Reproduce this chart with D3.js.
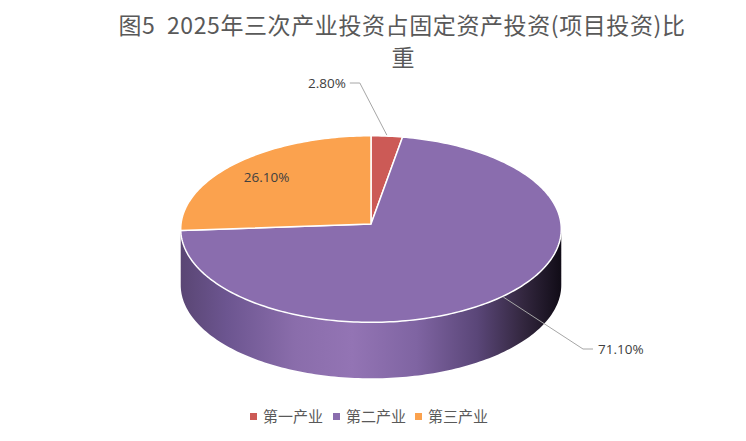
<!DOCTYPE html>
<html><head><meta charset="utf-8">
<script src="https://cdn.jsdelivr.net/npm/d3@7/dist/d3.min.js"></script>
<style>body{margin:0;background:#fff}svg{display:block}</style>
</head><body>
<svg id="c" width="746" height="441"></svg>
<script>
const categories = ["第一产业", "第二产业", "第三产业"];
const values = [2.8, 71.1, 26.1];
const valueLabels = ["2.80%", "71.10%", "26.10%"];
const colors = ["#cc5a56", "#8a6dae", "#fba24e"];
const titleLines = ["图5  2025年三次产业投资占固定资产投资(项目投资)比", "重"];

const svg = d3.select("#c");
// pie geometry (with slight perspective)
const cx = 371, vy = 224, Sx = 190, Sy = 93, depth = 56, persp = 0.054;

// Title
const tFont = "'Noto Sans CJK SC', sans-serif";
svg.append("text").attr("x", 402).attr("y", 34).attr("text-anchor", "middle")
  .attr("font-family", tFont).attr("font-size", 23).attr("letter-spacing", 0.6).attr("fill", "#595959")
  .style("white-space", "pre").text(titleLines[0]);
svg.append("text").attr("x", 403).attr("y", 66).attr("text-anchor", "middle")
  .attr("font-family", tFont).attr("font-size", 23).attr("fill", "#595959")
  .text(titleLines[1]);

const pie = d3.pie().sort(null).startAngle(0).endAngle(2 * Math.PI).value(d => d);
const arcs = pie(values);

// project a point on the circle (radius scaled by k) at angle a
function proj(a, k = 1, dy = 0) {
  const X = k * Math.sin(a), Y = -k * Math.cos(a);
  const w = 1 - persp * Y;
  return [cx + Sx * X / w, vy + Sy * Y / w + dy];
}

function arcPoints(a0, a1, dy) {
  const n = Math.max(2, Math.ceil(Math.abs(a1 - a0) / 0.02));
  const pts = [];
  for (let i = 0; i <= n; i++) pts.push(proj(a0 + (a1 - a0) * i / n, 1, dy));
  return pts;
}

// gradients for sides
const defs = svg.append("defs");
function sideGrad(id, stops) {
  const g = defs.append("linearGradient").attr("id", id)
    .attr("gradientUnits", "userSpaceOnUse")
    .attr("x1", cx - Sx).attr("x2", cx + Sx).attr("y1", 0).attr("y2", 0);
  stops.forEach(s => g.append("stop").attr("offset", s[0]).attr("stop-color", s[1]));
}
sideGrad("g1", [[0, "#5a4674"], [0.12, "#6c5590"], [0.3, "#8a6dab"], [0.45, "#9374b4"], [0.62, "#7f64a2"], [0.78, "#5a4678"], [0.9, "#33273f"], [1, "#110c17"]]);
sideGrad("g0", [[0, "#7a3533"], [0.45, "#cf5d59"], [1, "#2a1010"]]);
sideGrad("g2", [[0, "#a8652c"], [0.45, "#fca652"], [1, "#3a2410"]]);
const gradIds = ["g0", "g1", "g2"];

// visible side range: between silhouette points
const sA = Math.acos(-persp), sB = 2 * Math.PI - Math.acos(-persp);
const sideG = svg.append("g");
arcs.forEach((d, i) => {
  const a0 = Math.max(d.startAngle, sA);
  const a1 = Math.min(d.endAngle, sB);
  if (a1 <= a0) return;
  const top = arcPoints(a0, a1, 0);
  const bot = arcPoints(a1, a0, depth);
  sideG.append("path")
    .attr("d", d3.line()(top.concat(bot)) + "Z")
    .attr("fill", `url(#${gradIds[i]})`);
});

// top faces
const topG = svg.append("g");
arcs.forEach((d, i) => {
  const pts = [[cx, vy]].concat(arcPoints(d.startAngle, d.endAngle, 0));
  topG.append("path")
    .attr("d", d3.line()(pts) + "Z")
    .attr("fill", colors[i])
    .attr("stroke", "#fff").attr("stroke-width", 1.5).attr("stroke-linejoin", "round");
});

// labels
const lblFont = "'Open Sans', sans-serif";
const mid = d => (d.startAngle + d.endAngle) / 2;
{
  const d = arcs[0];
  const p0 = proj(mid(d), 1, -1);
  const p1 = [p0[0] - 27, 83];
  const p2 = [p1[0] - 10, 83];
  svg.append("polyline").attr("points", [p0, p1, p2].map(p => p.join(",")).join(" "))
    .attr("fill", "none").attr("stroke", "#a6a6a6").attr("stroke-width", 1);
  svg.append("text").attr("x", p2[0] - 4).attr("y", p2[1]).attr("dy", "0.35em")
    .attr("text-anchor", "end").attr("font-family", lblFont).attr("font-size", 13.5).attr("fill", "#404040")
    .text(valueLabels[0]);
}
{
  const d = arcs[1];
  const p0 = proj(mid(d), 1, 1);
  const p1 = [583, 349];
  const p2 = [593, 349];
  svg.append("polyline").attr("points", [p0, p1, p2].map(p => p.join(",")).join(" "))
    .attr("fill", "none").attr("stroke", "#a6a6a6").attr("stroke-width", 1);
  svg.append("text").attr("x", p2[0] + 5).attr("y", p2[1]).attr("dy", "0.35em")
    .attr("font-family", lblFont).attr("font-size", 13.5).attr("fill", "#404040")
    .text(valueLabels[1]);
}
{
  const d = arcs[2];
  const p = proj(mid(d), 0.75, 0);
  svg.append("text").attr("x", p[0] - 3).attr("y", p[1])
    .attr("dy", "0.35em").attr("text-anchor", "middle")
    .attr("font-family", lblFont).attr("font-size", 13.5).attr("fill", "#404040")
    .text(valueLabels[2]);
}

// legend
const legendX = [250, 333, 415];
const lg = svg.append("g");
categories.forEach((c, i) => {
  lg.append("rect").attr("x", legendX[i]).attr("y", 413).attr("width", 7).attr("height", 7).attr("fill", colors[i]);
  lg.append("text").attr("x", legendX[i] + 13).attr("y", 417).attr("dy", "0.35em")
    .attr("font-family", "'Noto Sans CJK SC', sans-serif").attr("font-size", 15).attr("fill", "#595959")
    .text(c);
});
</script>
</body></html>
